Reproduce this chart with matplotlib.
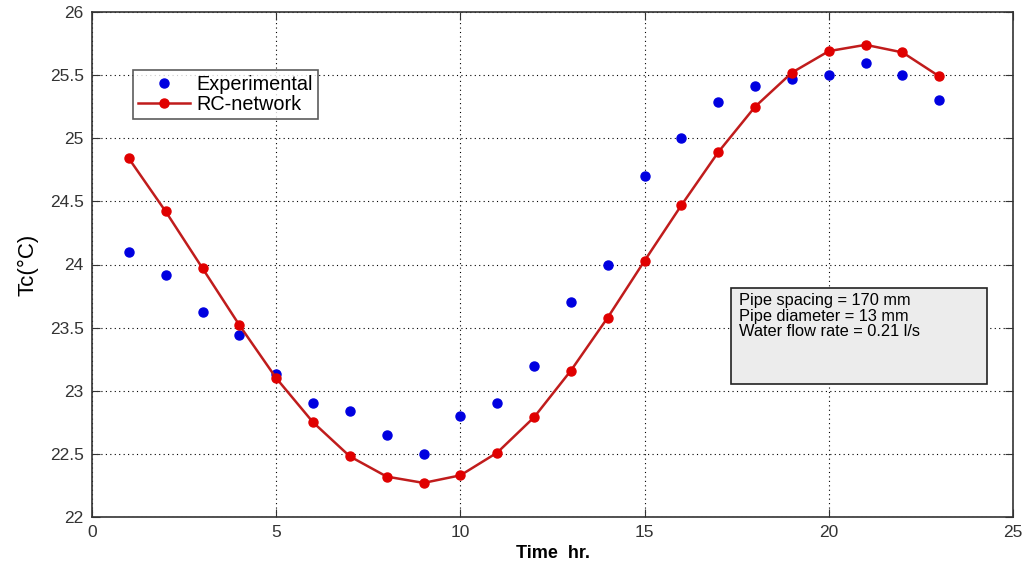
import numpy as np
import matplotlib
matplotlib.use("Agg")
import matplotlib.pyplot as plt

plt.rcParams['font.family'] = ['Liberation Sans', 'DejaVu Sans']

hours = list(range(1, 24))
experimental = [24.10, 23.92, 23.62, 23.44, 23.13, 22.90, 22.84, 22.65, 22.50, 22.80,
                22.90, 23.20, 23.70, 24.00, 24.70, 25.00, 25.29, 25.41, 25.47, 25.50,
                25.60, 25.50, 25.30]
rc_network = [24.84, 24.42, 23.97, 23.52, 23.10, 22.75, 22.48, 22.32, 22.27, 22.33,
              22.51, 22.79, 23.16, 23.58, 24.03, 24.47, 24.89, 25.25, 25.52, 25.69,
              25.74, 25.68, 25.49]
info_lines = ["Pipe spacing = 170 mm", "Pipe diameter = 13 mm", "Water flow rate = 0.21 l/s"]

fig = plt.figure(figsize=(10.29, 5.65), dpi=100)
ax = fig.add_axes([92/1029, 1 - 517/565, (1013-92)/1029, (517-12)/565])

ax.plot(hours, experimental, 'o', color='#0000e0', markersize=6.5, label='Experimental')
ax.plot(hours, rc_network, '-o', color='#c01c1c', markerfacecolor='#e00000',
        markeredgecolor='#e00000', markersize=6.5, linewidth=1.8, label='RC-network')

ax.set_xlim(0, 25)
ax.set_ylim(22, 26)
ax.set_xticks([0, 5, 10, 15, 20, 25])
ax.set_yticks(np.arange(22, 26.01, 0.5))
ax.set_yticklabels(['22', '22.5', '23', '23.5', '24', '24.5', '25', '25.5', '26'])
ax.grid(True, linestyle=(0, (1, 3)), color='black', linewidth=0.8)
ax.tick_params(direction='in', top=True, right=True, labelsize=12.5, colors='#333333',
               length=6, labelcolor='#333333', pad=6)
for s in ax.spines.values():
    s.set_color('#333333')
    s.set_linewidth(1.2)

ax.set_xlabel('Time  hr.', fontsize=13, fontweight='bold', labelpad=3)
ax.set_ylabel('Tc(°C)', fontsize=16, labelpad=8)

leg = ax.legend(loc='upper left', bbox_to_anchor=(41/921, 1 - 58/505), borderaxespad=0,
                fontsize=14.3, frameon=True, fancybox=False, edgecolor='#333333',
                handlelength=2.6, handletextpad=0.35, borderpad=0.25, labelspacing=0.05)
leg.get_frame().set_linewidth(1.2)

ax.text(17.55, 23.775, "\n".join(info_lines), fontsize=11.8, va='top', ha='left',
        linespacing=1.05, zorder=5)
ax.add_patch(plt.Rectangle((17.35, 23.05), 24.3 - 17.35, 23.81 - 23.05,
                           facecolor='#ececec', edgecolor='#222222', linewidth=1.2, zorder=4))

fig.savefig('out.png', dpi=100)
